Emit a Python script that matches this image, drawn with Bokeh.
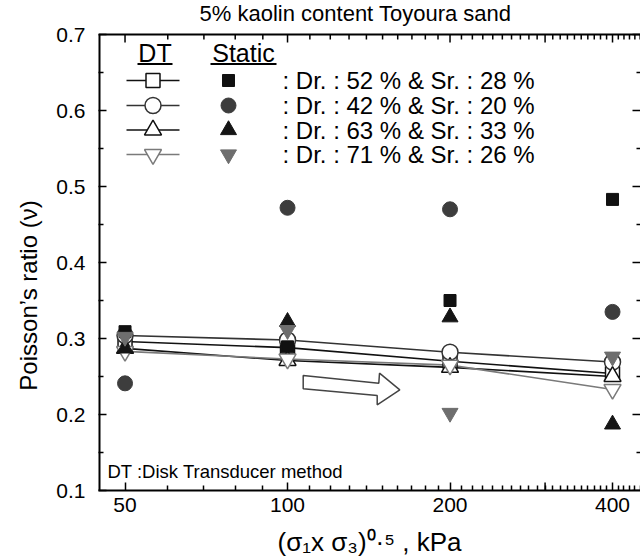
import math
from bokeh.plotting import figure
from bokeh.models import (FixedTicker, Label, Range1d, PrintfTickFormatter)
from bokeh.embed import file_html
from bokeh.resources import INLINE

# ---------------- data ----------------
pressure = [50, 100, 200, 400]
dt_square = [0.296, 0.288, 0.270, 0.254]
dt_circle = [0.304, 0.298, 0.282, 0.269]
dt_triangle = [0.287, 0.271, 0.262, 0.250]
dt_inv_triangle = [0.283, 0.273, 0.265, 0.233]
st_square = [0.309, 0.289, 0.350, 0.483]
st_circle = [0.241, 0.472, 0.470, 0.335]
st_triangle = [0.287, 0.322, 0.328, 0.187]
st_inv_triangle = [0.302, 0.311, 0.202, 0.276]
legend_labels = [": Dr. : 52 % & Sr. : 28 %",
                 ": Dr. : 42 % & Sr. : 20 %",
                 ": Dr. : 63 % & Sr. : 33 %",
                 ": Dr. : 71 % & Sr. : 26 %"]
x_major_ticks = [50, 100, 200, 400]
x_long_ticks = [50, 100, 200, 300, 400]
x_minor_ticks = [t for t in range(50, 451, 10) if t not in x_major_ticks]
y_major_ticks = [0.1, 0.2, 0.3, 0.4, 0.5, 0.6, 0.7]
y_minor_ticks = [0.15, 0.25, 0.35, 0.45, 0.55, 0.65]
title_text = "5% kaolin content Toyoura sand"
y_label = "Poisson\u2019s ratio (\u03bd)"
x_label = "(\u03c3\u2081x \u03c3\u2083)\u2070\u00b7\u2075 , kPa"
note_text = "DT :Disk Transducer method"

# ---------------- geometry ----------------
W, H = 640, 559
FL, FR, FB = 98, 640, 490      # frame edges (frame reaches the top of the canvas)
PT = 34                          # pixel row of the plot box top (y = 0.7)
X0, X1 = 44.65, 450.7
Y0, YT = 0.1, 0.7
Y1 = Y0 + (YT - Y0) * FB / (FB - PT)   # range top so that 0.7 sits at pixel row PT
FONT = "Liberation Sans"


def px2x(px):
    return 10 ** (math.log10(X0) + (px - FL) / (FR - FL) * (math.log10(X1) - math.log10(X0)))


def py2y(py):
    return Y0 + (FB - py) / (FB - PT) * (YT - Y0)


p = figure(width=W, height=H, x_axis_type="log",
           x_range=Range1d(X0, X1), y_range=Range1d(Y0, Y1),
           min_border_left=FL, min_border_right=W - FR,
           min_border_top=0, min_border_bottom=H - FB,
           output_backend="svg", toolbar_location=None)
p.outline_line_color = None
p.xgrid.visible = False
p.ygrid.visible = False
p.background_fill_color = "white"
p.border_fill_color = "white"
p.title.visible = False


def style_axis(ax):
    ax.axis_line_width = 2
    ax.axis_line_color = "black"
    ax.major_tick_in = 8
    ax.major_tick_out = 0
    ax.minor_tick_in = 5
    ax.minor_tick_out = 0
    ax.major_tick_line_width = 1.5
    ax.minor_tick_line_width = 1.5
    ax.major_tick_line_color = "black"
    ax.minor_tick_line_color = "black"
    ax.major_label_text_font = FONT
    ax.major_label_text_font_size = "21px"
    ax.major_label_text_color = "black"
    ax.axis_label_text_font = FONT
    ax.axis_label_text_font_style = "normal"
    ax.axis_label_text_color = "black"


xa = p.xaxis[0]
xa.ticker = FixedTicker(ticks=x_major_ticks, minor_ticks=x_minor_ticks)
xa.formatter = PrintfTickFormatter(format="%d")
style_axis(xa)
xa.major_label_standoff = 7
xa.axis_label = x_label
xa.axis_label_text_font_size = "26px"
xa.axis_label_standoff = 12

ya = p.yaxis[0]
ya.ticker = FixedTicker(ticks=y_major_ticks, minor_ticks=y_minor_ticks)
ya.formatter = PrintfTickFormatter(format="%.1f")
style_axis(ya)
ya.axis_line_color = None
ya.major_label_standoff = 13
ya.axis_label = y_label + "\u00a0" * 15
ya.axis_label_text_font_size = "24px"
ya.axis_label_standoff = 11

# ---------------- box: left / top border and inward ticks on top / right ----------------
p.segment(x0=[X0], y0=[Y0], x1=[X0], y1=[YT], line_color="black", line_width=4)
p.segment(x0=[X0], y0=[YT], x1=[X1], y1=[YT], line_color="black", line_width=2)
p.segment(x0=x_long_ticks, y0=[YT] * len(x_long_ticks), x1=x_long_ticks,
          y1=[py2y(PT + 8)] * len(x_long_ticks), line_color="black", line_width=1.5)
top_minor = [t for t in x_minor_ticks if t != 300]
p.segment(x0=top_minor, y0=[YT] * len(top_minor), x1=top_minor,
          y1=[py2y(PT + 5)] * len(top_minor), line_color="black", line_width=1.5)
p.segment(x0=[300], y0=[Y0], x1=[300], y1=[py2y(FB - 8)], line_color="black", line_width=1.5)
p.segment(x0=[X1] * len(y_major_ticks), y0=y_major_ticks,
          x1=[px2x(FR - 8)] * len(y_major_ticks), y1=y_major_ticks,
          line_color="black", line_width=1.5)
p.segment(x0=[X1] * len(y_minor_ticks), y0=y_minor_ticks,
          x1=[px2x(FR - 4)] * len(y_minor_ticks), y1=y_minor_ticks,
          line_color="black", line_width=1.5)

# ---------------- DT lines & open markers ----------------
dt_series = [
    (dt_square, "square", "#111111", 14),
    (dt_circle, "circle", "#333333", 16),
    (dt_triangle, "triangle", "#111111", 17),
    (dt_inv_triangle, "inverted_triangle", "#7a7a7a", 17),
]
for vals, mk, col, sz in dt_series:
    p.line(pressure, vals, line_color=col, line_width=1.6)
for vals, mk, col, sz in dt_series:
    p.scatter(pressure, vals, marker=mk, size=sz, fill_color="white",
              line_color=col, line_width=1.5)

# ---------------- static filled markers ----------------
st_series = [
    (st_square, "square", "#111111", 12),
    (st_circle, "circle", "#3d3d3d", 15),
    (st_triangle, "triangle", "#151515", 16),
    (st_inv_triangle, "inverted_triangle", "#6e6e6e", 16),
]
for vals, mk, col, sz in st_series:
    p.scatter(pressure, vals, marker=mk, size=sz, fill_color=col,
              line_color=col, line_width=1)

# ---------------- arrow (decoration) ----------------
arrow_px = [(302.7, 375.0), (378.3, 382.7), (379.0, 372.7), (399.3, 389.3),
            (376.7, 404.3), (376.7, 395.0), (302.7, 388.3)]
p.patch([px2x(a) for a, b in arrow_px], [py2y(b) for a, b in arrow_px],
        fill_color="white", line_color="#444444", line_width=1.5)

# ---------------- legend ----------------
row_py = [80, 105, 129.5, 154]
for i, (dts, sts) in enumerate(zip(dt_series, st_series)):
    yy = py2y(row_py[i])
    p.line([px2x(126), px2x(179)], [yy, yy], line_color=dts[2], line_width=1.6)
    p.scatter([px2x(152.5)], [yy], marker=dts[1], size=dts[3], fill_color="white",
              line_color=dts[2], line_width=1.5)
    p.scatter([px2x(228)], [yy], marker=sts[1], size=sts[3], fill_color=sts[2],
              line_color=sts[2])
    p.add_layout(Label(x=px2x(282), y=yy, text=legend_labels[i], text_font=FONT,
                       text_font_size="24px", text_baseline="middle",
                       text_align="left", text_color="black"))

for txt, cx, x0u, x1u in [("DT", 154.5, 137, 172), ("Static", 243, 210, 276)]:
    p.add_layout(Label(x=px2x(cx), y=py2y(52.5), text=txt, text_font=FONT,
                       text_font_size="25px", text_baseline="middle",
                       text_align="center", text_color="black"))
    p.line([px2x(x0u), px2x(x1u)], [py2y(63.5)] * 2, line_color="black", line_width=2)

# note
p.add_layout(Label(x=px2x(107), y=py2y(471), text=note_text, text_font=FONT,
                   text_font_size="18.5px", text_baseline="middle",
                   text_align="left", text_color="black"))

# title (inside the frame area, above the plot box)
p.add_layout(Label(x=px2x(355), y=py2y(13), text=title_text, text_font=FONT,
                   text_font_size="22px", text_baseline="middle",
                   text_align="center", text_color="black"))

open("out.html", "w").write(file_html(p, INLINE))
